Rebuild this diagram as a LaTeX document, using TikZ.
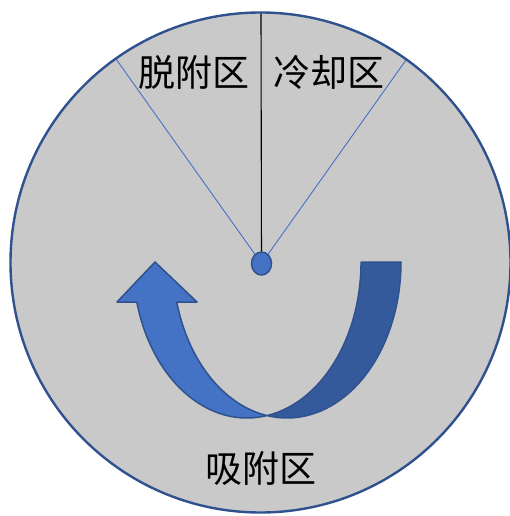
\documentclass[tikz,border=0pt]{standalone}
\usepackage{fontspec}
\usetikzlibrary{shapes.geometric}
\newfontfamily\cjk{Noto Sans CJK SC}
\definecolor{bgray}{HTML}{C9C9C9}
\definecolor{accent}{HTML}{4472C4}
\definecolor{accdark}{HTML}{355A9C}
\definecolor{edge}{HTML}{2F528F}
\tikzset{
  zonelabel/.style={font=\cjk\fontsize{37}{40}\selectfont, inner sep=0pt, text=black},
  divider/.style={draw=accent, line width=0.9pt},
  bandfront/.style={fill=accent, draw=edge, line width=1.5pt, line join=round},
  bandback/.style={fill=accdark, draw=edge, line width=1.5pt, line join=round}
}
\begin{document}
\begin{tikzpicture}[x=1pt,y=-1pt]
\useasboundingbox (0,0) rectangle (510,516);
% disc
\coordinate (c) at (260.5,262.5);
\fill[bgray] (c) circle[radius=250];
% dividers
\coordinate (hub) at (261.5,263.5);
\coordinate (topend) at (261,12);
\coordinate (lend) at (116,59);
\coordinate (rend) at (406,60);
\draw[divider] (hub) -- (lend);
\draw[divider] (hub) -- (rend);
\draw[black, line width=1.1pt] (hub) -- (topend);
\node[ellipse, minimum width=20pt, minimum height=23pt, inner sep=0pt, fill=accent, draw=edge, line width=1.5pt] (dot) at (hub) {};
\draw[edge, line width=2.4pt] (c) circle[radius=250];
% back band (dark)
\draw[bandback] (401,262) arc[start angle=0, end angle=100.1, x radius=114, y radius=156]
  arc[start angle=79.9, end angle=0, x radius=114, y radius=156] -- cycle;
% front band with arrowhead
\draw[bandfront] (136.8,302) arc[start angle=165.14, end angle=79.9, x radius=114, y radius=156]
  arc[start angle=100.1, end angle=165.14, x radius=114, y radius=156]
  -- (197,302) -- (155,262) -- (117,302) -- cycle;
% labels
\node[zonelabel] (desorb) at (193.5,72) {脱附区};
\node[zonelabel] (cool) at (329,72) {冷却区};
\node[zonelabel] (adsorb) at (260.5,468) {吸附区};
\end{tikzpicture}
\end{document}
